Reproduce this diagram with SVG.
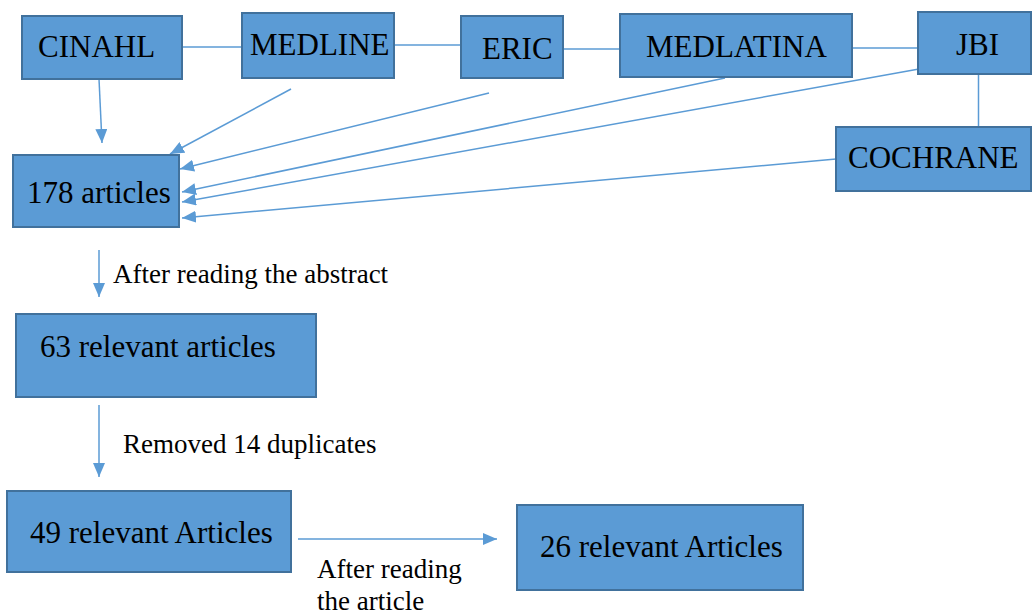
<svg xmlns="http://www.w3.org/2000/svg" width="1034" height="614" viewBox="0 0 1034 614" font-family="Liberation Serif, serif">
<style>
.box{fill:#5B9BD5;stroke:#41719C;stroke-width:2}
.bt{font-size:31px;fill:#000}
.lt{font-size:27px;fill:#000}
.c{stroke:#5B9BD5;stroke-width:1.5;fill:none}
.a{marker-end:url(#ah)}
</style>
<defs>
<marker id="ah" markerUnits="userSpaceOnUse" markerWidth="14" markerHeight="12" refX="14" refY="6" orient="auto" viewBox="0 0 14 12">
<path d="M0,0 L14,6 L0,12 z" fill="#5B9BD5"/>
</marker>
</defs>
<rect width="1034" height="614" fill="#fff"/>
<g id="connectors">
<line class="c" x1="182" y1="47" x2="242" y2="47"/>
<line class="c" x1="394" y1="45" x2="461" y2="45"/>
<line class="c" x1="563" y1="49" x2="620" y2="49"/>
<line class="c" x1="852" y1="48" x2="918" y2="48"/>
<line class="c" x1="978.5" y1="75" x2="978.5" y2="128"/>
<line class="c a" x1="99" y1="79" x2="102" y2="143"/>
<line class="c a" x1="291" y1="89" x2="170" y2="154"/>
<line class="c a" x1="489" y1="93" x2="180" y2="169"/>
<line class="c a" x1="725" y1="78" x2="182" y2="192"/>
<line class="c a" x1="919" y1="69" x2="182" y2="202"/>
<line class="c a" x1="836" y1="159" x2="182" y2="218"/>
<line class="c a" x1="99" y1="250" x2="99" y2="297"/>
<line class="c a" x1="99" y1="405" x2="99" y2="477"/>
<line class="c a" x1="298" y1="539" x2="497" y2="539"/>
</g>
<g id="cinahl"><rect class="box" x="22" y="16" width="160" height="63"/><text class="bt" x="38" y="57">CINAHL</text></g>
<g id="medline"><rect class="box" x="242" y="13" width="152" height="65"/><text class="bt" x="250" y="55">MEDLINE</text></g>
<g id="eric"><rect class="box" x="461" y="16" width="102" height="62"/><text class="bt" x="482" y="59">ERIC</text></g>
<g id="medlatina"><rect class="box" x="620" y="14" width="232" height="63"/><text class="bt" x="646" y="57">MEDLATINA</text></g>
<g id="jbi"><rect class="box" x="918" y="12" width="113" height="62"/><text class="bt" x="956" y="55">JBI</text></g>
<g id="cochrane"><rect class="box" x="836" y="127" width="195" height="64"/><text class="bt" x="848" y="168">COCHRANE</text></g>
<g id="n178"><rect class="box" x="13" y="155" width="166" height="72"/><text class="bt" x="27" y="203">178 articles</text></g>
<g id="n63"><rect class="box" x="16" y="314" width="300" height="83"/><text class="bt" x="40" y="357">63 relevant articles</text></g>
<g id="n49"><rect class="box" x="7" y="491" width="284" height="81"/><text class="bt" x="30" y="543">49 relevant Articles</text></g>
<g id="n26"><rect class="box" x="517" y="505" width="286" height="85"/><text class="bt" x="540" y="557">26 relevant Articles</text></g>
<g id="labels">
<text class="lt" x="113" y="283">After reading the abstract</text>
<text class="lt" x="123" y="453">Removed 14 duplicates</text>
<text class="lt" x="317" y="578">After reading</text>
<text class="lt" x="317" y="610">the article</text>
</g>
</svg>
